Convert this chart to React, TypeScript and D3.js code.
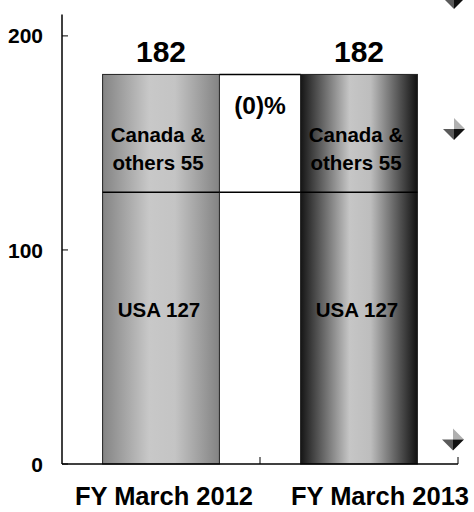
import React from "react";
import * as d3 from "d3";

// Sales by region, billions of yen
const categories = ["FY March 2012", "FY March 2013"];
const usaValues = [127, 127];
const otherValues = [55, 55];
const totalLabels = ["182", "182"];
const usaLabels = ["USA 127", "USA 127"];
const otherLabels = [["Canada &", "others 55"], ["Canada &", "others 55"]];
const changeLabel = "(0)%";
const yTicks = [0, 100, 200];

const W = 474;
const H = 512;
const FONT = "'Liberation Sans', Arial, sans-serif";

// Small shaded diamond ornaments on the right margin
const ornaments = [
  { cx: 454, cy: -2 },
  { cx: 454, cy: 129 },
  { cx: 453, cy: 439.5 },
];

export default function App() {
  const x = d3.scaleBand<string>().domain(categories).range([62, 458]).paddingInner(0.41).paddingOuter(0.205);
  const y = d3.scaleLinear().domain([0, 210]).range([464, 14.5]);
  const bw = x.bandwidth();
  const band = d3.scaleBand<string>().domain(categories).range([62, 458]);
  const labelShift = [3, 21];

  const totals = categories.map((_, i) => usaValues[i] + otherValues[i]);
  const x0 = x(categories[0])! + bw;
  const x1 = x(categories[1])!;

  return (
    <svg width={W} height={H} style={{ position: "absolute", left: 0, top: 0 }} fontFamily={FONT}>
      <defs>
        <linearGradient id="g0" x1="0" x2="1" y1="0" y2="0">
          <stop offset="0" stopColor="#848484" />
          <stop offset="0.4" stopColor="#c8c8c8" />
          <stop offset="0.62" stopColor="#c4c4c4" />
          <stop offset="1" stopColor="#838383" />
        </linearGradient>
        <linearGradient id="g1" x1="0" x2="1" y1="0" y2="0">
          <stop offset="0" stopColor="#151515" />
          <stop offset="0.42" stopColor="#c6c6c6" />
          <stop offset="0.6" stopColor="#bdbdbd" />
          <stop offset="1" stopColor="#111111" />
        </linearGradient>
      </defs>
      <rect width={W} height={H} fill="#fff" />

      {/* stacked bars */}
      {categories.map((c, i) => (
        <g key={c}>
          <rect
            x={x(c)}
            y={y(totals[i])}
            width={bw}
            height={y(0) - y(totals[i])}
            fill={`url(#g${i})`}
            stroke="#222"
            strokeWidth={1}
          />
          <line x1={x(c)} x2={x(c)! + bw} y1={y(usaValues[i])} y2={y(usaValues[i])} stroke="#000" strokeWidth={1.5} />
        </g>
      ))}

      {/* connector between the bars */}
      <line x1={x0} x2={x1} y1={y(totals[0])} y2={y(totals[1])} stroke="#000" strokeWidth={1.5} />
      <line x1={x0} x2={x1} y1={y(usaValues[0])} y2={y(usaValues[1])} stroke="#000" strokeWidth={1.5} />
      <text x={(x0 + x1) / 2} y={114} textAnchor="middle" fontSize={24.5} fontWeight="bold">{changeLabel}</text>

      {/* labels */}
      {categories.map((c, i) => {
        const cx = x(c)! + bw / 2;
        return (
          <g key={c + "l"} fontWeight="bold" textAnchor="middle">
            <text x={cx} y={62} fontSize={30}>{totalLabels[i]}</text>
            <text x={cx - 3} y={142} fontSize={20.5}>{otherLabels[i][0]}</text>
            <text x={cx - 3} y={170} fontSize={20.5}>{otherLabels[i][1]}</text>
            <text x={cx - 2} y={317} fontSize={20.5}>{usaLabels[i]}</text>
            <text x={band(c)! + band.bandwidth() / 2 + labelShift[i]} y={505} fontSize={25.5}>{c}</text>
          </g>
        );
      })}

      {/* axes */}
      <line x1={62} x2={62} y1={y(210)} y2={y(0)} stroke="#000" strokeWidth={1.5} />
      <line x1={62} x2={458} y1={y(0)} y2={y(0)} stroke="#000" strokeWidth={1.5} />
      {yTicks.map((t) => (
        <g key={t}>
          <line x1={62} x2={68} y1={y(t)} y2={y(t)} stroke="#000" strokeWidth={1} />
          <text x={43} y={y(t)} dy="0.36em" textAnchor="end" fontSize={21} fontWeight="bold">{t}</text>
        </g>
      ))}
      {categories.map((c) => (
        <line key={c + "t"} x1={band(c)! + band.bandwidth()} x2={band(c)! + band.bandwidth()} y1={y(0) - 7} y2={y(0)} stroke="#000" strokeWidth={1} />
      ))}

      {/* ornaments */}
      {ornaments.map((o, i) => {
        const r = 11;
        return (
          <g key={i}>
            <path d={`M${o.cx - r},${o.cy} L${o.cx},${o.cy - r} L${o.cx},${o.cy} Z`} fill="#ffffff" />
            <path d={`M${o.cx},${o.cy - r} L${o.cx + r},${o.cy} L${o.cx},${o.cy} Z`} fill="#b0b0b0" />
            <path d={`M${o.cx - r},${o.cy} L${o.cx},${o.cy + r} L${o.cx},${o.cy} Z`} fill="#5a5a5a" />
            <path d={`M${o.cx},${o.cy} L${o.cx + r},${o.cy} L${o.cx},${o.cy + r} Z`} fill="#111111" />
          </g>
        );
      })}
    </svg>
  );
}
